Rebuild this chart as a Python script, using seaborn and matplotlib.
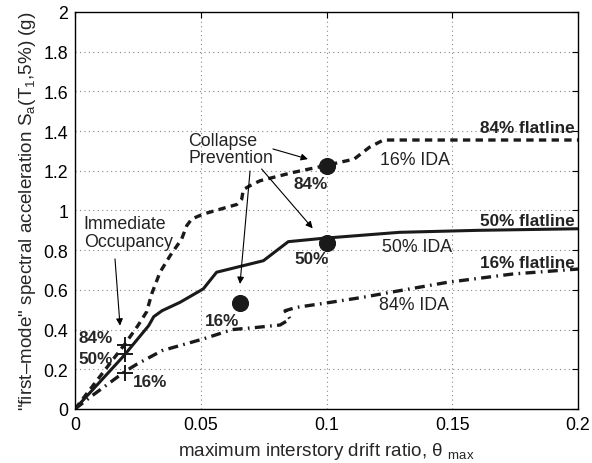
import matplotlib
matplotlib.use("Agg")
import matplotlib.pyplot as plt
import seaborn as sns
import pandas as pd

# ---- data -------------------------------------------------------------
# 16% IDA (upper, dashed)
ida16_x = [0, 0.01, 0.02, 0.025, 0.0285, 0.0305, 0.0338, 0.0378, 0.0424, 0.0444,
           0.0464, 0.051, 0.0603, 0.0643, 0.0663, 0.0669, 0.0696, 0.0736, 0.0868,
           0.0987, 0.104, 0.111, 0.117, 0.1226, 0.2]
ida16_y = [0, 0.165, 0.33, 0.42, 0.49, 0.58, 0.689, 0.772, 0.856, 0.923,
           0.957, 0.982, 1.016, 1.03, 1.058, 1.105, 1.125, 1.150, 1.192,
           1.224, 1.239, 1.259, 1.318, 1.355, 1.355]

# 50% IDA (median, solid)
ida50_x = [0, 0.0194, 0.0293, 0.0313, 0.0346, 0.0417, 0.051, 0.0563, 0.0643,
           0.0749, 0.0848, 0.0987, 0.129, 0.16, 0.2]
ida50_y = [0, 0.268, 0.42, 0.465, 0.495, 0.537, 0.605, 0.689, 0.714,
           0.747, 0.843, 0.860, 0.89, 0.90, 0.908]

# 84% IDA (lower, dash-dot)
ida84_x = [0, 0.0068, 0.02, 0.0245, 0.0346, 0.051, 0.0625, 0.0722, 0.0815,
           0.0855, 0.0835, 0.0881, 0.1014, 0.1146, 0.129, 0.148, 0.174, 0.2]
ida84_y = [0, 0.067, 0.19, 0.225, 0.294, 0.353, 0.40, 0.411, 0.423,
           0.453, 0.495, 0.512, 0.537, 0.563, 0.596, 0.638, 0.680, 0.705]

# Immediate Occupancy limit-state points
io_x = [0.02, 0.02, 0.02]
io_y = [0.322, 0.277, 0.181]
io_labels = ["84%", "50%", "16%"]

# Collapse Prevention limit-state points
cp_x = [0.1, 0.1, 0.0656]
cp_y = [1.225, 0.836, 0.535]
cp_labels = ["84%", "50%", "16%"]

flatlines = [("84% flatline", 1.416), ("50% flatline", 0.952), ("16% flatline", 0.740)]

x_ticks = [0, 0.05, 0.1, 0.15, 0.2]
x_ticklabels = ["0", "0.05", "0.1", "0.15", "0.2"]
y_ticks = [0, 0.2, 0.4, 0.6, 0.8, 1.0, 1.2, 1.4, 1.6, 1.8, 2.0]
y_ticklabels = ["0", "0.2", "0.4", "0.6", "0.8", "1", "1.2", "1.4", "1.6", "1.8", "2"]

# ---- style ------------------------------------------------------------
sns.set_theme(style="white")
plt.rcParams["font.family"] = ["Liberation Sans", "DejaVu Sans"]
plt.rcParams["mathtext.fontset"] = "custom"
plt.rcParams["mathtext.rm"] = "Liberation Sans"
plt.rcParams["mathtext.it"] = "Liberation Sans:italic"
plt.rcParams["mathtext.default"] = "rm"
FS = 12.8      # plain annotation / tick text
FSB = 12.3     # bold labels
FSL = 13.6     # axis labels
INK = "#1a1a1a"

fig = plt.figure(figsize=(5.92, 4.64), dpi=100)
ax = fig.add_axes([0.1267, 0.1164, 0.8497, 0.8556])

df16 = pd.DataFrame({"x": ida16_x, "y": ida16_y})
df50 = pd.DataFrame({"x": ida50_x, "y": ida50_y})
df84 = pd.DataFrame({"x": ida84_x, "y": ida84_y})

sns.lineplot(data=df16, x="x", y="y", sort=False, ax=ax, color=INK,
             lw=2.4, linestyle=(0, (2.2, 1.6)))
sns.lineplot(data=df50, x="x", y="y", sort=False, ax=ax, color=INK, lw=2.2)
sns.lineplot(data=df84, x="x", y="y", sort=False, ax=ax, color=INK,
             lw=2.4, linestyle=(0, (3.0, 1.6, 0.5, 1.6)))

sns.scatterplot(x=cp_x, y=cp_y, ax=ax, color=INK, s=130, marker="o",
                edgecolor=INK, zorder=5)
ax.plot(io_x, io_y, linestyle="none", marker="+", markersize=11,
        markeredgewidth=1.4, color=INK, zorder=5)

# ---- axes -------------------------------------------------------------
ax.set_xlim(0, 0.2)
ax.set_ylim(0, 2)
ax.set_xticks(x_ticks)
ax.set_xticklabels(x_ticklabels)
ax.set_yticks(y_ticks)
ax.set_yticklabels(y_ticklabels)
ax.tick_params(direction="in", length=4, width=0.8, top=True, right=True,
               labelsize=FS, colors="black", pad=5)
ax.grid(True, linestyle=(0, (1, 3)), color="#888888", linewidth=0.8)
for s in ax.spines.values():
    s.set_visible(True)
    s.set_color("black")
    s.set_linewidth(1.0)

ax.set_xlabel(r"maximum interstory drift ratio, $\theta$ $_{\mathrm{max}}$",
              fontsize=FSL, labelpad=5)
ax.set_ylabel(r'"first–mode" spectral acceleration S$_{\mathrm{a}}$(T$_{1}$,5%) (g)',
              fontsize=FSL, labelpad=4)

# ---- annotations ------------------------------------------------------
for lab, yv in flatlines:
    ax.text(0.1985, yv, lab, ha="right", va="center", fontsize=FSB,
            fontweight="bold", color="#222222")

ax.text(0.1213, 1.259, "16% IDA", ha="left", va="center", fontsize=FS, color="#222222")
ax.text(0.1220, 0.821, "50% IDA", ha="left", va="center", fontsize=FS, color="#222222")
ax.text(0.1210, 0.524, "84% IDA", ha="left", va="center", fontsize=FS, color="#222222")

# point labels
ax.text(0.0938, 1.134, cp_labels[0], ha="center", va="center", fontsize=FSB, fontweight="bold")
ax.text(0.0942, 0.756, cp_labels[1], ha="center", va="center", fontsize=FSB, fontweight="bold")
ax.text(0.0585, 0.448, cp_labels[2], ha="center", va="center", fontsize=FSB, fontweight="bold")
ax.text(0.0080, 0.358, io_labels[0], ha="center", va="center", fontsize=FSB, fontweight="bold")
ax.text(0.0080, 0.252, io_labels[1], ha="center", va="center", fontsize=FSB, fontweight="bold")
ax.text(0.0300, 0.136, io_labels[2], ha="center", va="center", fontsize=FSB, fontweight="bold")

ax.text(0.0450, 1.310, "Collapse\nPrevention", ha="left", va="center",
        fontsize=FS, linespacing=1.05, color="#222222")
ax.text(0.0035, 0.890, "Immediate\nOccupancy", ha="left", va="center",
        fontsize=FS, linespacing=1.05, color="#222222")

arrow = dict(arrowstyle="-|>", color="black", lw=0.8, mutation_scale=10,
             shrinkA=0, shrinkB=0)
ax.annotate("", xy=(0.0926, 1.259), xytext=(0.0787, 1.310), arrowprops=arrow)
ax.annotate("", xy=(0.0656, 0.630), xytext=(0.0696, 1.199), arrowprops=arrow)
ax.annotate("", xy=(0.0945, 0.910), xytext=(0.0742, 1.209), arrowprops=arrow)
ax.annotate("", xy=(0.0179, 0.420), xytext=(0.0159, 0.756), arrowprops=arrow)

fig.savefig("out.png", dpi=100)
